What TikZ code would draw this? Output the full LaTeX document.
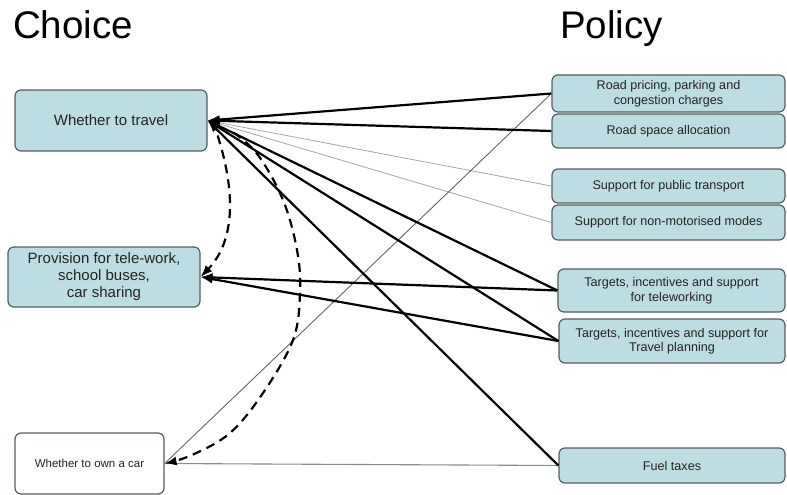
\documentclass[tikz,border=0pt]{standalone}
\usepackage{fontspec}
\setmainfont{Liberation Sans}
\usetikzlibrary{arrows.meta,calc}
\definecolor{boxfill}{RGB}{188,221,226}
\definecolor{boxline}{RGB}{85,95,97}
\definecolor{boxtext}{RGB}{35,35,35}
\definecolor{faintgray}{RGB}{165,165,165}
\definecolor{midgray}{RGB}{100,100,100}
\begin{document}
\begin{tikzpicture}[x=1pt,y=-1pt,
 choicebox/.style={draw=boxline,line width=1.2pt,fill=boxfill,rounded corners=6pt,inner sep=0pt,align=center,text=boxtext},
 policybox/.style={choicebox,font=\fontsize{12.6}{14.5}\selectfont},
 strong/.style={line width=2.2pt,-{Latex[length=12pt,width=9pt]}},
 faint/.style={line width=0.8pt,draw=faintgray},
 thinline/.style={line width=0.9pt,draw=midgray},
 dashedarrow/.style={line width=2.2pt,dash pattern=on 9pt off 6pt,-{Latex[length=12pt,width=9pt]}},
 title/.style={font=\fontsize{38.5}{40}\selectfont,anchor=base west,inner sep=0pt}]
\useasboundingbox (0,0) rectangle (787,495);

% titles
\node[title] (choice) at (13,39) {Choice};
\node[title] (policy) at (560,39) {Policy};

% choice boxes
\node[choicebox,minimum width=192pt,minimum height=61pt,font=\fontsize{15}{17}\selectfont] (travel) at (111,120.5) {Whether to travel};
\node[choicebox,minimum width=192pt,minimum height=60pt,font=\fontsize{15}{17}\selectfont] (prov) at (104,277) {Provision for tele-work,\\school buses,\\car sharing};
\node[choicebox,fill=white,minimum width=149pt,minimum height=61pt,font=\fontsize{11.5}{13}\selectfont] (own) at (89.5,463.5) {Whether to own a car};

% policy boxes
\node[policybox,minimum width=233pt,minimum height=37pt] (rp) at (668.5,93.5) {Road pricing, parking and\\congestion charges};
\node[policybox,minimum width=233pt,minimum height=34pt] (rs) at (668.5,131) {Road space allocation};
\node[policybox,minimum width=233pt,minimum height=34pt] (pt) at (668.5,186) {Support for public transport};
\node[policybox,minimum width=233pt,minimum height=35pt] (nm) at (668.5,222.5) {Support for non-motorised modes};
\node[policybox,minimum width=227pt,minimum height=43pt] (tw) at (671.5,290.5) {Targets, incentives and support\\for teleworking};
\node[policybox,minimum width=226pt,minimum height=44pt] (tp) at (672,341) {Targets, incentives and support for\\Travel planning};
\node[policybox,minimum width=226pt,minimum height=35pt] (ft) at (672,465.5) {Fuel taxes};

% thin connectors
\draw[faint] (pt.west) -- (travel.east);
\draw[faint] (nm.west) -- (travel.east);
\draw[thinline] (rp.west) -- (own.east);
\draw[thinline,line width=1.1pt,draw={rgb,255:red,140;green,140;blue,140}] (ft.west) -- (own.east);

% strong connectors
\draw[strong] (rp.west) -- (travel.east);
\draw[strong] (rs.west) -- (travel.east);
\draw[strong] (tw.west) -- (travel.east);
\draw[strong] (tp.west) -- (travel.east);
\draw[strong] (ft.west) -- (travel.east);
\draw[strong] (tw.west) -- (prov.east);
\draw[strong] (tp.west) -- (prov.east);

% dashed connectors
\draw[dashedarrow] ($(travel.east)+(10,15)$) .. controls (235,190) and (236,240) .. (prov.east);
\draw[dashedarrow] plot[smooth,tension=0.6] coordinates {($(travel.east)+(26,12)$) (258,155) (283,200) (297,250) (300,293) (293,340) (263,393) (230,433) (192,455) (own.east)};
\end{tikzpicture}
\end{document}
